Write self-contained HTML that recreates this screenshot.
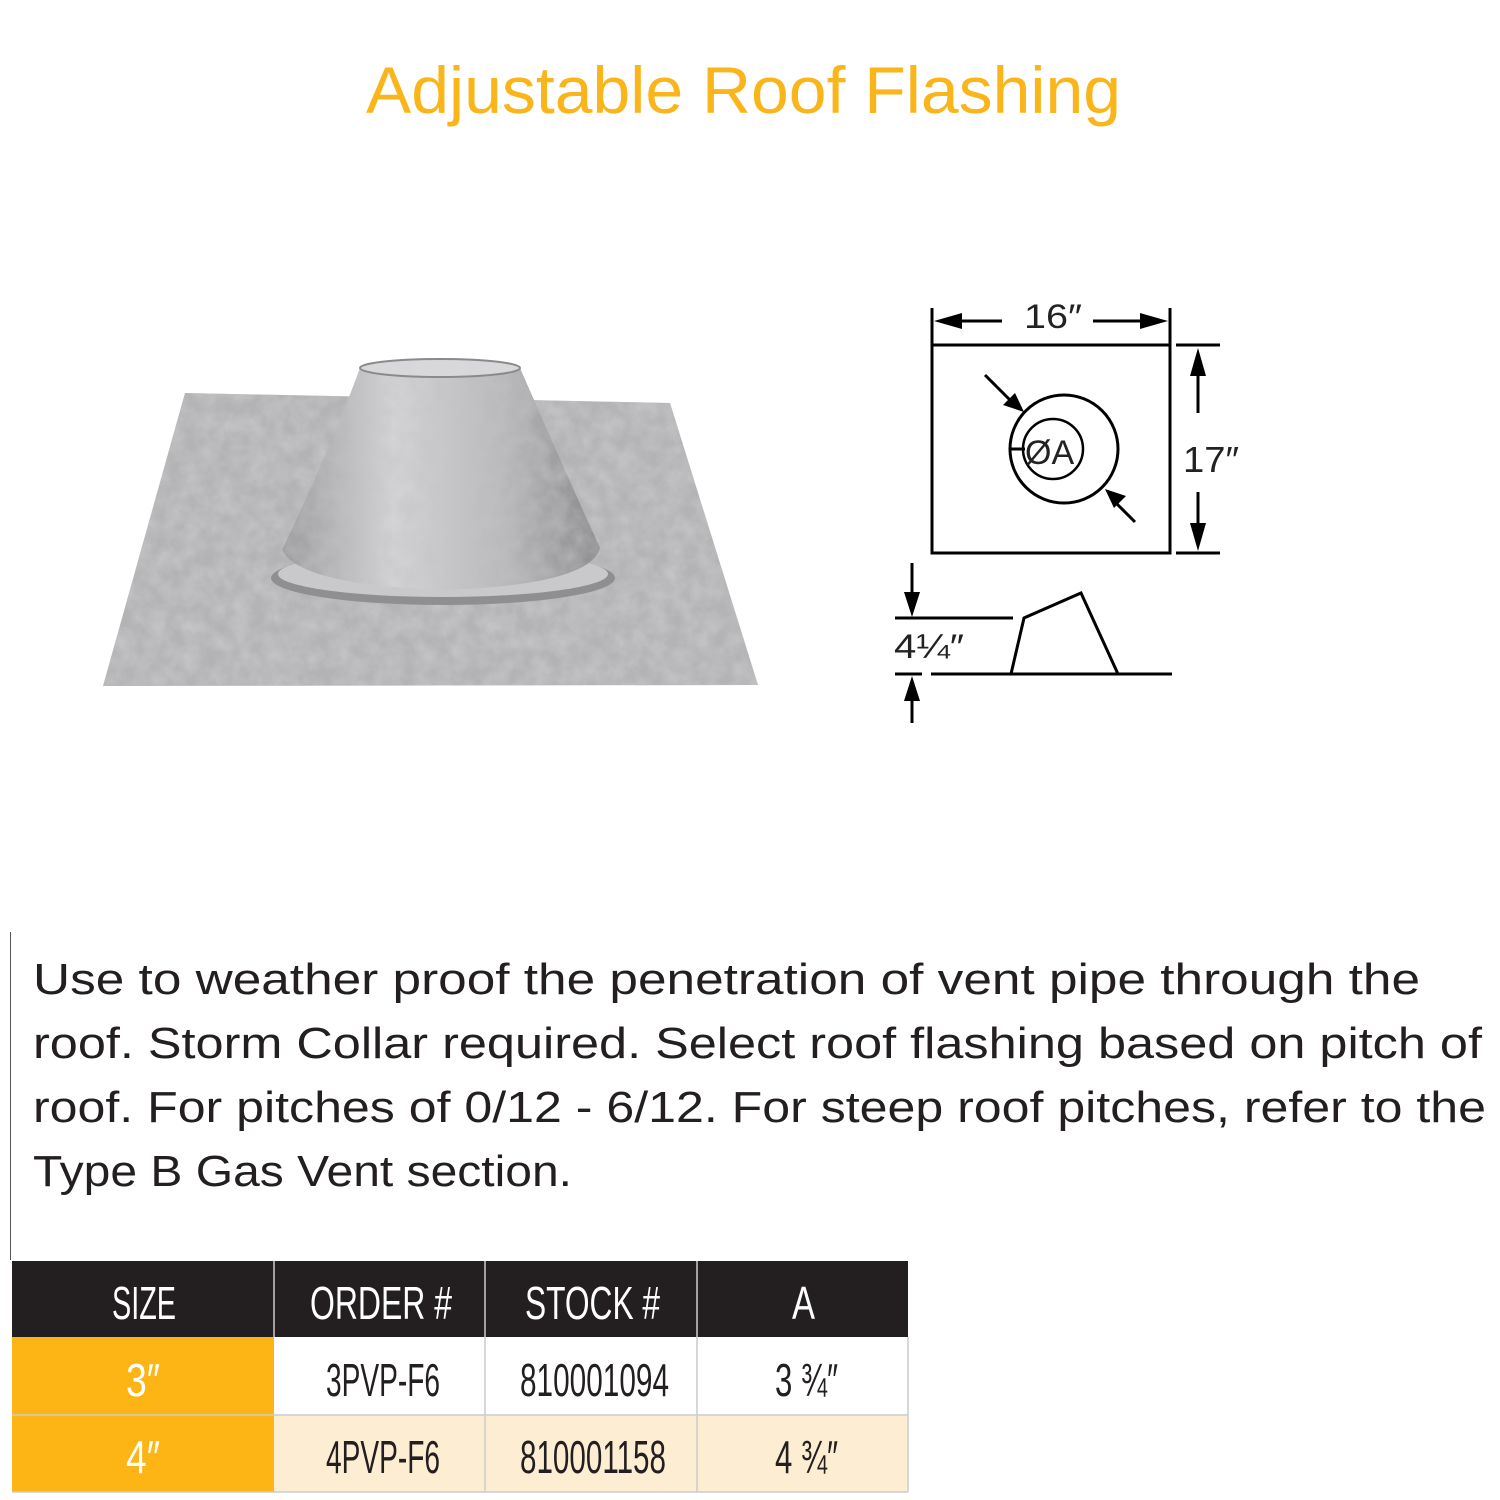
<!DOCTYPE html>
<html><head><meta charset="utf-8"><style>
html,body{margin:0;padding:0;background:#fff;width:1500px;height:1500px;overflow:hidden}
svg{display:block}
</style></head><body>
<svg width="1500" height="1500" viewBox="0 0 1500 1500" xmlns="http://www.w3.org/2000/svg">
<defs>
<filter id="noise" x="0" y="0" width="100%" height="100%">
<feTurbulence type="fractalNoise" baseFrequency="0.06" numOctaves="3" seed="3"/>
<feColorMatrix type="matrix" values="0 0 0 0 0.55  0 0 0 0 0.55  0 0 0 0 0.56  0 0 0 -1.6 1.2"/>
<feComposite in2="SourceGraphic" operator="in"/>
</filter>
<linearGradient id="cone" x1="0" x2="1" y1="0" y2="0">
<stop offset="0" stop-color="#9a9a9c"/><stop offset="0.35" stop-color="#d4d4d6"/><stop offset="0.7" stop-color="#b8b8ba"/><stop offset="1" stop-color="#8a8a8c"/>
</linearGradient>
</defs>
<rect width="1500" height="1500" fill="#fff"/>
<text x="366" y="113" font-family="Liberation Sans,sans-serif" font-size="66" fill="#F9B51A" textLength="755" lengthAdjust="spacingAndGlyphs">Adjustable Roof Flashing</text>

<polygon points="185,393 670,403 758,685 103,686" fill="#b3b3b5"/>
<polygon points="185,393 670,403 758,685 103,686" fill="#fff" filter="url(#noise)"/>
<ellipse cx="443" cy="578" rx="172" ry="27" fill="#8f8f91"/>
<ellipse cx="443" cy="574" rx="165" ry="23" fill="#c9c9cb"/>
<path d="M360,368 Q330,450 282,550 Q300,585 443,590 Q590,585 600,548 Q560,460 520,368 Z" fill="url(#cone)"/>
<path d="M360,368 Q330,450 282,550 Q300,585 443,590 Q590,585 600,548 Q560,460 520,368 Z" fill="#fff" filter="url(#noise)" opacity="0.5"/>
<ellipse cx="440" cy="368" rx="80" ry="9" fill="#d8d8da" stroke="#8a8a8c" stroke-width="2"/>

<g stroke="#000" fill="none" stroke-width="3">
<rect x="932" y="345" width="238" height="208"/>
<circle cx="1064" cy="449" r="54"/>
<circle cx="1053" cy="449" r="30" stroke-width="2.5"/>
<line x1="1010" y1="449" x2="1025" y2="449"/>
<line x1="932" y1="308" x2="932" y2="345"/>
<line x1="1170" y1="308" x2="1170" y2="345"/>
<line x1="940" y1="321" x2="1002" y2="321"/>
<line x1="1093" y1="321" x2="1162" y2="321"/>
<line x1="1176" y1="345" x2="1220" y2="345"/>
<line x1="1176" y1="553" x2="1220" y2="553"/>
<line x1="1198" y1="358" x2="1198" y2="413"/>
<line x1="1198" y1="492" x2="1198" y2="540"/>
<line x1="985" y1="375" x2="1012" y2="402"/>
<line x1="1135" y1="522" x2="1112" y2="499"/>
<line x1="895" y1="618" x2="1013" y2="618"/>
<line x1="895" y1="674" x2="922" y2="674"/>
<line x1="931" y1="674" x2="1172" y2="674"/>
<polyline points="1011,674 1024,618 1081,593 1118,674"/>
<line x1="912" y1="563" x2="912" y2="605"/>
<line x1="912" y1="688" x2="912" y2="723"/>
</g>
<g fill="#000">
<polygon points="934,321 962,313 962,329"/>
<polygon points="1168,321 1140,313 1140,329"/>
<polygon points="1198,348 1190,376 1206,376"/>
<polygon points="1198,551 1190,523 1206,523"/>
<polygon points="1024,412 1003,405 1015,393"/>
<polygon points="1105,489 1126,496 1114,508"/>
<polygon points="912,617 904,592 920,592"/>
<polygon points="912,676 904,701 920,701"/>
</g>
<g font-family="Liberation Sans,sans-serif" fill="#222">
<text x="1024" y="328" font-size="34" textLength="58" lengthAdjust="spacingAndGlyphs">16″</text>
<text x="1183" y="472" font-size="36" textLength="56" lengthAdjust="spacingAndGlyphs">17″</text>
<text x="1025" y="464" font-size="34">ØA</text>
<text x="894" y="658" font-size="34" textLength="70" lengthAdjust="spacingAndGlyphs">4¼″</text>
</g>

<line x1="10.5" y1="932" x2="10.5" y2="1260" stroke="#555" stroke-width="1"/>
<g font-family="Liberation Sans,sans-serif" font-size="44" fill="#231f20">
<text x="33" y="994" textLength="1387" lengthAdjust="spacingAndGlyphs">Use to weather proof the penetration of vent pipe through the</text>
<text x="33" y="1058" textLength="1449" lengthAdjust="spacingAndGlyphs">roof.  Storm Collar required. Select roof flashing based on pitch of</text>
<text x="33" y="1122" textLength="1453" lengthAdjust="spacingAndGlyphs">roof.  For pitches of 0/12 - 6/12.  For steep roof pitches, refer to the</text>
<text x="33" y="1186" textLength="539" lengthAdjust="spacingAndGlyphs">Type B Gas Vent section.</text>
</g>

<rect x="12" y="1261" width="896" height="76" fill="#231f20"/>
<rect x="12" y="1337" width="262" height="155" fill="#FDB515"/>
<rect x="274" y="1337" width="634" height="78" fill="#fff"/>
<rect x="274" y="1415" width="634" height="77" fill="#FDEED3"/>
<g stroke="#ccc" stroke-width="1.5">
<line x1="274" y1="1261" x2="274" y2="1337"/><line x1="485" y1="1261" x2="485" y2="1492"/><line x1="697" y1="1261" x2="697" y2="1492"/>
<line x1="12" y1="1415" x2="908" y2="1415"/><line x1="908" y1="1337" x2="908" y2="1492"/><line x1="12" y1="1492" x2="908" y2="1492"/>
</g>
<g font-family="Liberation Sans,sans-serif" font-size="46" lengthAdjust="spacingAndGlyphs">
<g fill="#fff">
<text x="112" y="1319" textLength="64" lengthAdjust="spacingAndGlyphs">SIZE</text>
<text x="310" y="1319" textLength="142" lengthAdjust="spacingAndGlyphs">ORDER #</text>
<text x="525" y="1319" textLength="135" lengthAdjust="spacingAndGlyphs">STOCK #</text>
<text x="792" y="1319" textLength="23" lengthAdjust="spacingAndGlyphs">A</text>
<text x="126" y="1396" textLength="34" lengthAdjust="spacingAndGlyphs">3″</text>
<text x="126" y="1473" textLength="34" lengthAdjust="spacingAndGlyphs">4″</text>
</g>
<g fill="#231f20">
<text x="326" y="1396" textLength="114" lengthAdjust="spacingAndGlyphs">3PVP-F6</text>
<text x="520" y="1396" textLength="149" lengthAdjust="spacingAndGlyphs">810001094</text>
<text x="775" y="1396" textLength="63" lengthAdjust="spacingAndGlyphs">3 ¾″</text>
<text x="326" y="1473" textLength="114" lengthAdjust="spacingAndGlyphs">4PVP-F6</text>
<text x="520" y="1473" textLength="146" lengthAdjust="spacingAndGlyphs">810001158</text>
<text x="775" y="1473" textLength="63" lengthAdjust="spacingAndGlyphs">4 ¾″</text>
</g>
</g>
</svg>
</body></html>
